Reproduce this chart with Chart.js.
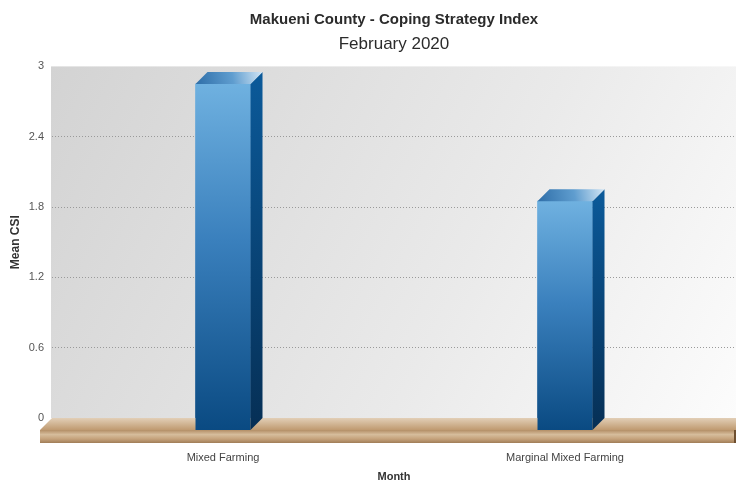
<!DOCTYPE html>
<html><head><meta charset="utf-8">
<script src="https://cdn.jsdelivr.net/npm/chart.js@4.4.1/dist/chart.umd.min.js"></script>
<style>html,body{margin:0;padding:0;background:#fff}canvas{display:block}</style>
</head><body>
<canvas id="c" width="736" height="482"></canvas>
<script>
const categories = ['Mixed Farming', 'Marginal Mixed Farming'];
const meanCSI = [2.85, 1.85];
const yTicks = [0, 0.6, 1.2, 1.8, 2.4, 3];
const chartTitle = 'Makueni County - Coping Strategy Index';
const chartSubtitle = 'February 2020';
const xTitle = 'Month';
const yTitle = 'Mean CSI';

const DX = 12, DY = 12;
const FONT = "'Liberation Sans', Arial, Helvetica, sans-serif";

function frontGradient(c, top, bot) {
  const g = c.createLinearGradient(0, top, 0, bot);
  g.addColorStop(0, '#6fb1e0');
  g.addColorStop(0.45, '#3a80bd');
  g.addColorStop(1, '#0a4a82');
  return g;
}

const bar3d = {
  id: 'bar3d',
  beforeDraw(chart) {
    const {ctx, chartArea: a, scales: {y}} = chart;
    const y0 = y.getPixelForValue(0);
    ctx.save();
    ctx.fillStyle = '#fff';
    ctx.fillRect(0, 0, chart.width, chart.height);
    const g = ctx.createLinearGradient(a.left, a.top, a.right, y0);
    g.addColorStop(0, '#d3d3d3');
    g.addColorStop(0.6, '#eaeaea');
    g.addColorStop(1, '#fcfcfc');
    ctx.fillStyle = g;
    ctx.fillRect(a.left - 1, a.top, a.right - a.left + 1, y0 - a.top);
    ctx.restore();
  },
  beforeDatasetsDraw(chart) {
    const {ctx, chartArea: a, scales: {y}} = chart;
    const y0 = y.getPixelForValue(0);
    const L = a.left, R = chart.width;
    ctx.save();
    // floor top surface
    let g = ctx.createLinearGradient(0, y0, 0, y0 + DY);
    g.addColorStop(0, '#e2cfb7');
    g.addColorStop(1, '#bf9a70');
    ctx.fillStyle = g;
    ctx.beginPath();
    ctx.moveTo(L, y0); ctx.lineTo(R, y0); ctx.lineTo(R, y0 + DY); ctx.lineTo(L - DX, y0 + DY);
    ctx.closePath(); ctx.fill();
    // floor front face
    g = ctx.createLinearGradient(0, y0 + DY, 0, y0 + DY + 13);
    g.addColorStop(0, '#b38e66');
    g.addColorStop(0.35, '#d6bd9c');
    g.addColorStop(0.7, '#c4a17a');
    g.addColorStop(1, '#a07d57');
    ctx.fillStyle = g;
    ctx.fillRect(L - DX, y0 + DY, R - L + DX, 13);
    ctx.fillStyle = '#6e4f30';
    ctx.fillRect(R - 2, y0 + DY, 2, 13);
    ctx.restore();
  },
  afterDatasetsDraw(chart) {
    const {ctx, scales: {y}} = chart;
    const y0 = y.getPixelForValue(0);
    const meta = chart.getDatasetMeta(0);
    ctx.save();
    meta.data.forEach(el => {
      const x1 = el.x - el.width / 2, x2 = el.x + el.width / 2, t = el.y;
      // front extension into floor
      ctx.fillStyle = frontGradient(ctx, t, y0 + DY);
      ctx.fillRect(x1, y0 - 1, x2 - x1, DY + 1);
      // side face
      let g = ctx.createLinearGradient(0, t - DY, 0, y0 + DY);
      g.addColorStop(0, '#0b5a9a');
      g.addColorStop(1, '#062f55');
      ctx.fillStyle = g;
      ctx.beginPath();
      ctx.moveTo(x2, t); ctx.lineTo(x2 + DX, t - DY); ctx.lineTo(x2 + DX, y0); ctx.lineTo(x2, y0 + DY);
      ctx.closePath(); ctx.fill();
      // top face
      g = ctx.createLinearGradient(x1, t, x2 + DX, t - DY);
      g.addColorStop(0, '#2e6ea8');
      g.addColorStop(0.55, '#5f9dcf');
      g.addColorStop(1, '#d3e6f5');
      ctx.fillStyle = g;
      ctx.beginPath();
      ctx.moveTo(x1, t); ctx.lineTo(x1 + DX, t - DY); ctx.lineTo(x2 + DX, t - DY); ctx.lineTo(x2, t);
      ctx.closePath(); ctx.fill();
    });
    ctx.restore();
  }
};

new Chart(document.getElementById('c'), {
  type: 'bar',
  data: {
    labels: categories,
    datasets: [{
      label: yTitle,
      data: meanCSI,
      barThickness: 55,
      borderWidth: 0,
      backgroundColor: (c) => {
        const chart = c.chart;
        if (!chart.chartArea || c.type !== 'data') return '#2f73ad';
        const ys = chart.scales.y;
        return frontGradient(chart.ctx, ys.getPixelForValue(c.parsed.y), ys.getPixelForValue(0) + DY);
      }
    }]
  },
  options: {
    responsive: false,
    animation: false,
    devicePixelRatio: 1,
    layout: { padding: 0 },
    plugins: {
      legend: { display: false },
      tooltip: { enabled: false },
      title: {
        display: true, text: chartTitle, fullSize: false, color: '#2b2b2b',
        font: { family: FONT, size: 15, weight: 'bold', lineHeight: 1.2 },
        padding: { top: 11, bottom: 5 }
      },
      subtitle: {
        display: true, text: chartSubtitle, fullSize: false, color: '#2b2b2b',
        font: { family: FONT, size: 17, weight: 'normal', lineHeight: 1.2 },
        padding: { top: 0, bottom: 12 }
      }
    },
    scales: {
      x: {
        grid: { display: false, drawTicks: false },
        border: { display: false },
        ticks: { color: '#444', font: { family: FONT, size: 11 }, padding: 33 },
        title: { display: true, text: xTitle, color: '#333', font: { family: FONT, size: 11, weight: 'bold', lineHeight: 1 }, padding: { top: 0, bottom: 0 } },
        afterFit: s => { s.height = 64; }
      },
      y: {
        min: 0, max: 3,
        afterBuildTicks: s => { s.ticks = yTicks.map(v => ({ value: v })); },
        grid: {
          drawTicks: false,
          color: c => (c.tick && (c.tick.value === 0 || c.tick.value === 3)) ? 'rgba(0,0,0,0)' : '#9a9a9a',
          lineWidth: 1
        },
        border: { display: false, dash: [1, 2] },
        ticks: { color: '#555', font: { family: FONT, size: 11 }, padding: 8, callback: v => String(v) },
        title: { display: true, text: yTitle, color: '#333', font: { family: FONT, size: 12, weight: 'bold', lineHeight: 1.2 }, padding: { top: 8, bottom: 0 } },
        afterFit: s => { s.width = 52; }
      }
    }
  },
  plugins: [bar3d]
});
</script>
</body></html>
